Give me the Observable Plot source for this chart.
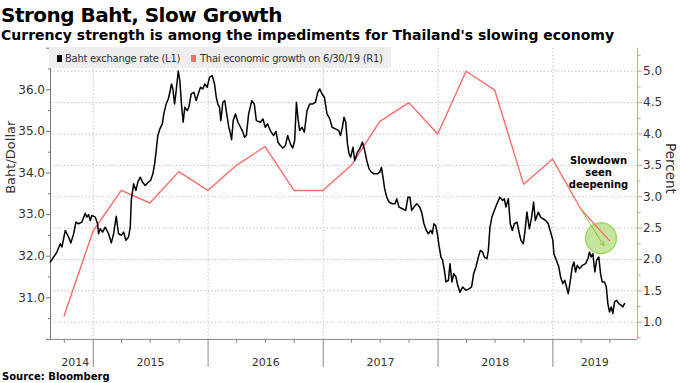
<!DOCTYPE html>
<html>
<head>
<meta charset="utf-8">
<script src="https://cdn.jsdelivr.net/npm/d3@7"></script>
<script src="https://cdn.jsdelivr.net/npm/@observablehq/plot@0.6"></script>
<style>
  html, body { margin: 0; padding: 0; background: #fff; }
  #wrap { position: relative; width: 680px; height: 383px; overflow: hidden; font-family: "DejaVu Sans", sans-serif; color: #000; }
  .abs { position: absolute; white-space: nowrap; }
  #title { left: 1px; top: 4.8px; font-size: 20px; line-height: 20px; font-weight: bold; letter-spacing: -0.5px; }
  #subtitle { left: 1px; top: 27.7px; font-size: 14px; line-height: 14px; font-weight: bold; }
  #chart { position: absolute; left: 0; top: 44px; }
  #source { left: 2px; top: 371.5px; font-size: 10px; line-height: 10px; font-weight: bold; }
  #legend { left: 48.5px; top: 46.7px; width: 342px; height: 21.6px; background: #eeeeee; }
  .sw { position: absolute; width: 5.7px; height: 6.7px; }
  .lt { position: absolute; font-size: 10px; line-height: 10px; color: #333; letter-spacing: -0.27px; white-space: nowrap; }
</style>
</head>
<body>
<div id="wrap">
  <div id="title" class="abs">Strong Baht, Slow Growth</div>
  <div id="subtitle" class="abs">Currency strength is among the impediments for Thailand's slowing economy</div>
  <div id="chart"></div>
  <div id="legend" class="abs"></div>
  <div id="source" class="abs">Source: Bloomberg</div>
</div>
<script>
// ---------- data ----------
// Baht per dollar, time as decimal year
const bahtTime = [2014.626,2014.655,2014.683,2014.713,2014.727,2014.756,2014.770,2014.785,2014.805,2014.829,2014.849,2014.872,2014.901,2014.930,2014.944,2014.959,2014.974,2014.988,
2015.017,2015.037,2015.046,2015.061,2015.081,2015.104,2015.133,2015.157,2015.177,2015.200,2015.220,2015.244,2015.264,2015.284,2015.307,2015.322,2015.331,2015.351,2015.371,2015.388,2015.409,2015.429,2015.453,2015.479,2015.499,2015.519,2015.534,2015.548,2015.562,2015.580,2015.601,2015.614,2015.635,2015.653,2015.667,2015.681,2015.693,2015.708,2015.722,2015.740,2015.754,2015.768,2015.783,2015.797,2015.818,2015.832,2015.853,2015.876,2015.896,2015.914,2015.934,2015.954,2015.971,2015.992,
2016.012,2016.036,2016.056,2016.071,2016.084,2016.099,2016.111,2016.128,2016.145,2016.166,2016.180,2016.195,2016.204,2016.218,2016.238,2016.259,2016.282,2016.297,2016.317,2016.332,2016.352,2016.380,2016.401,2016.419,2016.453,2016.476,2016.497,2016.517,2016.540,2016.569,2016.589,2016.607,2016.627,2016.650,2016.671,2016.691,2016.714,2016.735,2016.752,2016.767,2016.781,2016.795,2016.816,2016.836,2016.859,2016.883,2016.909,2016.932,2016.952,2016.970,2016.990,
2017.010,2017.033,2017.057,2017.077,2017.106,2017.135,2017.150,2017.167,2017.181,2017.196,2017.211,2017.225,2017.239,2017.259,2017.274,2017.298,2017.318,2017.341,2017.361,2017.379,2017.399,2017.420,2017.442,2017.472,2017.492,2017.507,2017.520,2017.535,2017.553,2017.573,2017.602,2017.625,2017.640,2017.660,2017.689,2017.718,2017.738,2017.755,2017.770,2017.790,2017.814,2017.840,2017.857,2017.877,2017.898,2017.916,2017.936,2017.950,2017.964,2017.979,2017.994,
2018.008,2018.025,2018.040,2018.055,2018.069,2018.090,2018.104,2018.121,2018.136,2018.156,2018.171,2018.191,2018.214,2018.243,2018.272,2018.292,2018.310,2018.330,2018.351,2018.368,2018.388,2018.403,2018.426,2018.438,2018.452,2018.469,2018.490,2018.513,2018.539,2018.562,2018.577,2018.591,2018.612,2018.629,2018.647,2018.664,2018.687,2018.708,2018.722,2018.742,2018.756,2018.774,2018.795,2018.815,2018.832,2018.847,2018.873,2018.893,2018.913,2018.937,2018.960,2018.980,
2019.000,2019.009,2019.030,2019.052,2019.067,2019.087,2019.104,2019.119,2019.134,2019.148,2019.169,2019.183,2019.198,2019.212,2019.232,2019.256,2019.285,2019.305,2019.319,2019.334,2019.348,2019.366,2019.380,2019.400,2019.415,2019.430,2019.450,2019.465,2019.479,2019.493,2019.508,2019.522,2019.537,2019.554,2019.574,2019.595,2019.609,2019.624];
const bahtRate = [31.86,31.98,32.10,32.30,32.22,32.62,32.54,32.46,32.32,32.54,32.82,32.78,32.82,33.03,32.94,33.00,32.86,32.98,
32.94,32.78,32.54,32.66,32.58,32.70,32.54,32.32,32.54,32.96,32.54,32.50,32.58,32.38,32.46,32.70,33.34,33.74,33.58,33.78,33.90,33.78,33.70,33.78,33.82,33.98,34.22,34.54,34.90,35.06,35.18,35.42,35.66,35.78,35.94,36.14,36.02,35.66,35.98,36.45,36.22,35.66,35.22,35.58,35.50,35.58,35.90,35.94,35.74,35.90,36.06,36.02,36.14,36.06,
36.30,36.34,36.14,35.82,35.66,35.58,35.26,35.70,35.74,35.34,35.10,34.94,34.80,35.26,35.42,35.22,35.10,35.02,34.86,34.90,35.42,35.74,35.66,35.26,35.22,35.30,35.10,35.18,35.02,34.90,35.00,34.74,34.66,34.60,34.66,34.90,34.70,34.60,34.78,35.70,35.30,35.02,35.10,34.98,35.50,35.66,35.66,35.70,35.94,36.02,35.90,
35.82,35.42,35.30,35.10,35.06,35.02,34.90,35.10,35.34,35.22,34.70,34.46,34.38,34.62,34.30,34.50,34.58,34.74,34.54,34.30,34.10,34.02,33.98,33.98,34.02,34.14,33.90,33.62,33.42,33.30,33.26,33.26,33.38,33.18,33.14,33.10,33.42,33.42,33.10,33.18,33.26,33.18,33.06,32.78,32.62,32.54,32.62,32.54,32.78,32.74,32.54,
32.26,31.98,31.90,31.66,31.38,31.42,31.82,31.38,31.58,31.50,31.30,31.13,31.26,31.18,31.22,31.26,31.58,31.74,31.98,32.14,32.10,31.98,31.94,32.14,32.70,32.94,33.10,33.26,33.42,33.34,33.38,33.18,33.38,32.78,32.62,32.78,32.82,32.54,32.38,32.30,32.58,33.06,32.66,32.94,33.30,32.86,33.06,32.94,32.90,32.86,32.78,32.58,
32.38,32.06,31.90,31.74,31.50,31.34,31.42,31.26,31.10,31.34,31.74,31.86,31.62,31.78,31.70,31.78,31.82,31.94,32.10,31.98,32.06,31.62,31.90,31.98,31.58,31.38,31.38,31.26,30.86,30.66,30.78,30.62,30.90,30.94,30.86,30.82,30.78,30.86];

// Thai GDP growth, % y/y (right axis)
const growthDates = ["2014-09-30","2014-12-31","2015-03-31","2015-06-30","2015-09-30","2015-12-31","2016-03-31","2016-06-30","2016-09-30","2016-12-31","2017-03-31","2017-06-30","2017-09-30","2017-12-31","2018-03-31","2018-06-30","2018-09-30","2018-12-31","2019-03-31","2019-06-30"];
const growthValues = [1.1,2.45,3.1,2.9,3.4,3.1,3.5,3.8,3.1,3.1,3.5,4.2,4.5,4.0,5.0,4.7,3.2,3.6,2.8,2.3];

// axes / ticks
const xDomain = ["2014-08-18","2019-09-27"];
const leftDomain = [30, 37];
const rightDomain = [0.726, 5.367];
const leftMajor = [30,31,32,33,34,35,36,37];
const leftMinor = [30.5,31.5,32.5,33.5,34.5,35.5,36.5];
const rightMajor = [1.0,1.5,2.0,2.5,3.0,3.5,4.0,4.5,5.0];
const rightMinor = [0.75,1.25,1.75,2.25,2.75,3.25,3.75,4.25,4.75,5.25];
const yearTicks = ["2015-01-01","2016-01-01","2017-01-01","2018-01-01","2019-01-01"];
const quarterTicks = ["2014-10-01","2015-04-01","2015-07-01","2015-10-01","2016-04-01","2016-07-01","2016-10-01","2017-04-01","2017-07-01","2017-10-01","2018-04-01","2018-07-01","2018-10-01","2019-04-01","2019-07-01"];
const yearLabels = ["2014","2015","2016","2017","2018","2019"];
const yearLabelAt = ["2014-11-05","2015-07-02","2016-07-02","2017-07-02","2018-07-02","2019-05-14"];

// annotation
const annoText = ["Slowdown\nseen\ndeepening"];
const annoTextAt = {date: "2019-05-26", pct: 3.39};
const annoCircleAt = {date: "2019-06-03", pct: 2.34};
const annoArrow = {from: {date: "2019-03-31", pct: 2.8}, to: {date: "2019-06-12", pct: 2.22}};

// legend
const legendItems = ["Baht exchange rate (L1)", "Thai economic growth on 6/30/19 (R1)"];

// colors
const RED = "#ff6b6b";
const GREEN = "#9fd35c";

// ---------- build ----------
const fromDecYear = t => {
  const y = Math.floor(t);
  const s = Date.UTC(y, 0, 1), e = Date.UTC(y + 1, 0, 1);
  return new Date(s + (t - y) * (e - s));
};
const D = s => new Date(s);
const toL = d3.scaleLinear().domain(rightDomain).range(leftDomain);
const fromL = v => toL.invert(v);

const baht = bahtTime.map((t, i) => ({date: fromDecYear(t), rate: bahtRate[i]}));
const growth = growthDates.map((d, i) => ({date: D(d), value: growthValues[i]}));

const chart = Plot.plot({
  width: 680,
  height: 328,
  marginLeft: 50,
  marginRight: 43,
  marginTop: 3.7,
  marginBottom: 33.1,
  style: {fontFamily: '"DejaVu Sans", sans-serif', fontSize: "12px", color: "#333", background: "transparent", overflow: "visible"},
  x: {type: "utc", domain: xDomain.map(D), axis: null},
  y: {domain: leftDomain, axis: null},
  marks: [
    // gridlines
    Plot.ruleY(rightMajor.map(toL), {stroke: "#c4c4c4", strokeDasharray: "1.5,2"}),
    Plot.ruleX(yearTicks.map(D), {stroke: "#c4c4c4", strokeDasharray: "1.5,2"}),
    // axis lines
    Plot.ruleX([D(xDomain[0])], {stroke: "#777"}),
    Plot.ruleX([D(xDomain[1])], {stroke: "#ff9090"}),
    Plot.ruleY([leftDomain[0]], {stroke: "#888"}),
    // annotation circle
    Plot.dot([annoCircleAt], {x: d => D(d.date), y: d => toL(d.pct), r: 15.5, fill: GREEN, fillOpacity: 0.6, stroke: GREEN, strokeOpacity: 0.9}),
    // series
    Plot.line(growth, {x: "date", y: d => toL(d.value), stroke: RED, strokeWidth: 1.4}),
    Plot.line(baht, {x: "date", y: "rate", stroke: "#000", strokeWidth: 1.5}),
    // arrow
    Plot.arrow([annoArrow], {x1: d => D(d.from.date), y1: d => toL(d.from.pct), x2: d => D(d.to.date), y2: d => toL(d.to.pct), stroke: "#8cc63f", strokeWidth: 1, headLength: 6}),
    // annotation text
    Plot.text(annoText, {x: () => D(annoTextAt.date), y: () => toL(annoTextAt.pct), text: d => d, fontWeight: "bold", fontSize: 10, lineHeight: 1.17, fill: "#000", textAnchor: "middle"}),
    // left axis
    Plot.axisY(leftMinor, {anchor: "left", tickSize: 2, tickFormat: () => "", stroke: "#777", label: null}),
    Plot.axisY(leftMajor, {anchor: "left", tickSize: 4, tickPadding: 1.5, stroke: "#777", fill: "#333", label: null,
      tickFormat: d => (d > leftDomain[0] && d < leftDomain[1]) ? d.toFixed(1) : ""}),
    // right axis
    Plot.axisY(rightMinor.map(toL), {anchor: "right", tickSize: 2.5, tickFormat: () => "", stroke: "#ff9090", label: null}),
    Plot.axisY(rightMajor.map(toL), {anchor: "right", tickSize: 4, tickPadding: 1.5, stroke: "#ff9090", fill: "#333", label: null,
      tickFormat: d => fromL(d).toFixed(1)}),
    // x axis
    Plot.axisX(yearTicks.map(D), {anchor: "bottom", tickSize: 28, tickFormat: () => "", stroke: "#888", label: null}),
    Plot.axisX(quarterTicks.map(D), {anchor: "bottom", tickSize: 4, tickFormat: () => "", stroke: "#888", label: null}),
    Plot.axisX(yearLabelAt.map(D), {anchor: "bottom", tickSize: 0, tickPadding: 19, fontSize: 11, fill: "#333", label: null,
      tickFormat: (d, i) => yearLabels[i]}),
    // axis titles
    Plot.text(["Baht/Dollar"], {frameAnchor: "left", rotate: -90, dx: -39.5, fontSize: 13, fill: "#333"}),
    Plot.text(["Percent"], {frameAnchor: "right", rotate: 90, dx: 32.5, fontSize: 13.5, fill: "#333"})
  ]
});
document.getElementById("chart").appendChild(chart);

// legend (HTML overlay)
const wrap = document.getElementById("wrap");
const sw1 = document.createElement("div"); sw1.className = "sw"; sw1.style.left = "56.7px"; sw1.style.top = "55px"; sw1.style.background = "#000"; wrap.appendChild(sw1);
const t1 = document.createElement("div"); t1.className = "lt"; t1.style.left = "65px"; t1.style.top = "54.2px"; t1.textContent = legendItems[0]; wrap.appendChild(t1);
const sw2 = document.createElement("div"); sw2.className = "sw"; sw2.style.left = "190.7px"; sw2.style.top = "55px"; sw2.style.background = RED; wrap.appendChild(sw2);
const t2 = document.createElement("div"); t2.className = "lt"; t2.style.left = "200px"; t2.style.top = "54.2px"; t2.textContent = legendItems[1]; wrap.appendChild(t2);
</script>
</body>
</html>
